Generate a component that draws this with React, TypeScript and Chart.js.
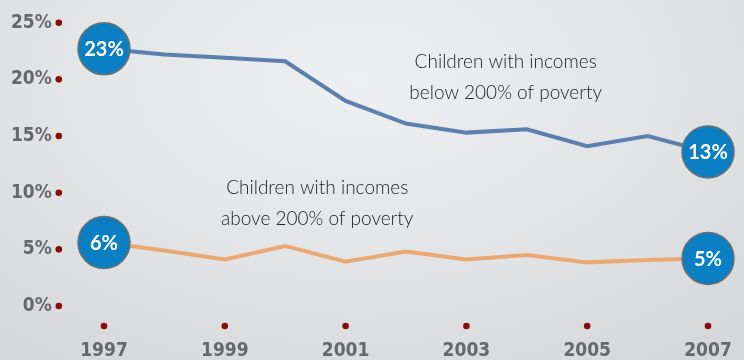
import React, { useEffect, useRef } from "react";
import { Chart, registerables } from "chart.js";

Chart.register(...registerables);

const years = ["1997", "1998", "1999", "2000", "2001", "2002", "2003", "2004", "2005", "2006", "2007"];
const tickYears = ["1997", "1999", "2001", "2003", "2005", "2007"];
const below200 = [22.7, 22.2, 21.9, 21.6, 18.1, 16.1, 15.3, 15.6, 14.1, 15.0, 13.6];
const above200 = [5.6, 4.9, 4.1, 5.3, 3.9, 4.8, 4.1, 4.5, 3.85, 4.05, 4.2];
const belowEndLabels = ["23%", "13%"];
const aboveEndLabels = ["6%", "5%"];
const belowNote = ["Children with incomes", "below 200% of poverty"];
const aboveNote = ["Children with incomes", "above 200% of poverty"];

const TICK_FONT = "'Liberation Sans Narrow', 'DejaVu Sans Condensed', sans-serif";
const TICK_COLOR = "#686868";

const decorPlugin = {
  id: "decor",
  afterDatasetsDraw(chart: any) {
    const { ctx } = chart;
    const endLabels = [belowEndLabels, aboveEndLabels];
    ctx.save();
    ctx.fillStyle = "#ffffff";
    ctx.font = "bold 20px Lato, sans-serif";
    ctx.textAlign = "center";
    ctx.textBaseline = "middle";
    chart.data.datasets.forEach((ds: any, di: number) => {
      const meta = chart.getDatasetMeta(di);
      const pts = meta.data;
      const first = pts[0];
      const last = pts[pts.length - 1];
      ctx.fillText(endLabels[di][0], first.x, first.y + 1);
      ctx.fillText(endLabels[di][1], last.x, last.y + 1);
    });
    ctx.restore();
  },
  afterDraw(chart: any) {
    const { ctx, chartArea } = chart;
    const x = chart.scales.x;
    const y = chart.scales.y;
    ctx.save();
    ctx.fillStyle = "#8a0b0b";
    y.ticks.forEach((t: any) => {
      const py = y.getPixelForValue(t.value);
      ctx.beginPath();
      ctx.arc(chartArea.left - 15, py, 3.3, 0, Math.PI * 2);
      ctx.fill();
    });
    x.ticks.forEach((t: any, i: number) => {
      const label = years[t.value];
      if (!tickYears.includes(label)) return;
      const px = x.getPixelForTick(i);
      ctx.beginPath();
      ctx.arc(px, chartArea.bottom + 20, 3.3, 0, Math.PI * 2);
      ctx.fill();
    });

    // notes
    ctx.fillStyle = "#1f1f1f";
    ctx.font = "300 19px Lato, sans-serif";
    ctx.textAlign = "center";
    ctx.textBaseline = "middle";
    const notes = [
      { lines: belowNote, xi: 6.65, yv: 20.2 },
      { lines: aboveNote, xi: 3.53, yv: 9.1 },
    ];
    notes.forEach((n) => {
      const cx = x.getPixelForValue(n.xi);
      const cy = y.getPixelForValue(n.yv);
      ctx.fillText(n.lines[0], cx, cy - 15.5);
      ctx.fillText(n.lines[1], cx, cy + 15.5);
    });
    ctx.restore();
  },
};

export default function App() {
  const ref = useRef<HTMLCanvasElement | null>(null);

  useEffect(() => {
    document.body.style.margin = "0";
    if (!ref.current) return;
    const n = years.length;
    const endRadius = (c: any) => (c.dataIndex === 0 || c.dataIndex === n - 1 ? 26 : 0);
    const chart = new Chart(ref.current, {
      type: "line",
      data: {
        labels: years,
        datasets: [
          {
            label: "Children with incomes below 200% of poverty",
            data: below200,
            borderColor: "#5b7fae",
            borderWidth: 4,
            tension: 0,
            pointRadius: endRadius,
            pointHoverRadius: endRadius,
            pointBackgroundColor: "#0b7fc4",
            pointBorderColor: "#6e6e6e",
            pointBorderWidth: 1.5,
            clip: false,
          },
          {
            label: "Children with incomes above 200% of poverty",
            data: above200,
            borderColor: "#eaa873",
            borderWidth: 4,
            tension: 0,
            pointRadius: endRadius,
            pointHoverRadius: endRadius,
            pointBackgroundColor: "#0b7fc4",
            pointBorderColor: "#6e6e6e",
            pointBorderWidth: 1.5,
            clip: false,
          },
        ],
      },
      options: {
        animation: false,
        responsive: false,
        devicePixelRatio: 1,
        layout: { autoPadding: false, padding: { top: 22.7, right: 5.8, left: 0, bottom: 0 } },
        plugins: { legend: { display: false }, tooltip: { enabled: false } },
        scales: {
          x: {
            offset: true,
            grid: { display: false, drawTicks: true, tickLength: 34 },
            border: { display: false },
            afterFit: (axis: any) => {
              axis.height = 54;
              axis.paddingLeft = 0;
              axis.paddingRight = 0;
            },
            ticks: {
              autoSkip: false,
              maxRotation: 0,
              padding: 0,
              color: TICK_COLOR,
              font: { family: TICK_FONT, size: 19, weight: "bold" },
              callback: (_v: any, i: number) => (tickYears.includes(years[i]) ? years[i] : ""),
            },
          },
          y: {
            min: 0,
            max: 25,
            grid: { display: false, drawTicks: true, tickLength: 22 },
            border: { display: false },
            afterFit: (axis: any) => {
              axis.width = 73.8;
              axis.paddingTop = 0;
              axis.paddingBottom = 0;
            },
            ticks: {
              stepSize: 5,
              padding: 0,
              color: TICK_COLOR,
              font: { family: TICK_FONT, size: 19, weight: "bold" },
              callback: (v: any) => v + "%",
            },
          },
        },
      },
      plugins: [decorPlugin],
    });
    return () => chart.destroy();
  }, []);

  return (
    <div
      style={{
        position: "fixed",
        left: 0,
        top: 0,
        width: 744,
        height: 360,
        overflow: "hidden",
        background:
          "radial-gradient(ellipse 75% 95% at 48% 22%, #eeeff1 0%, #e4e5e7 50%, #d6d7d9 100%)",
      }}
    >
      <canvas ref={ref} width={744} height={360} style={{ display: "block" }} />
    </div>
  );
}
